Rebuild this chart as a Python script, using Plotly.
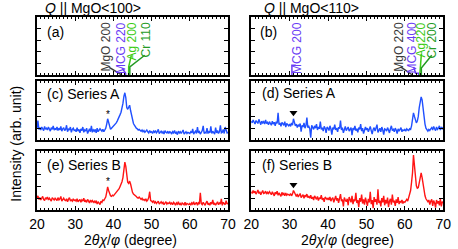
import numpy as np
import plotly.graph_objects as go

# ---------------- data ----------------
scan_start, scan_stop, scan_step = 20.0, 70.0, 0.25
two_theta = np.round(np.arange(scan_start, scan_stop + 1e-6, scan_step), 2)

series_A_100 = [
    20, 33, 18, 21, 17, 22, 19, 16, 23, 18, 20, 17, 22, 19, 15, 21, 18, 24, 17, 19,
    18, 22, 16, 20, 17, 23, 15, 19, 21, 16, 18, 25, 14, 19, 17, 22, 13, 18, 20, 16,
    17, 14, 21, 15, 18, 12, 19, 16, 22, 13, 17, 15, 20, 11, 16, 19, 14, 24, 13, 17,
    15, 18, 12, 20, 14, 16, 19, 17, 15, 18, 14, 17, 20, 27, 36, 30, 21, 18, 20, 22,
    22, 24, 26, 29, 32, 35, 38, 43, 47, 53, 62, 74, 80, 72, 55, 52, 56, 59, 50, 40,
    33, 28, 25, 22, 20, 19, 17, 18, 16, 15, 17, 14, 16, 13, 15, 17, 14, 12, 16, 13,
    14, 11, 15, 13, 16, 12, 14, 18, 11, 13, 15, 12, 14, 10, 16, 13, 12, 15, 11, 14,
    13, 10, 14, 12, 16, 11, 13, 9, 15, 12, 14, 11, 13, 17, 10, 12, 14, 11, 13, 12,
    11, 14, 12, 19, 10, 13, 15, 11, 22, 12, 14, 10, 13, 16, 24, 11, 13, 12, 20, 11,
    14, 12, 23, 11, 15, 13, 10, 21, 12, 16, 11, 14, 25, 12, 13, 18, 11, 22, 14, 12,
    13]

series_B_100 = [
    19, 24, 18, 21, 17, 20, 23, 18, 16, 21, 19, 22, 17, 20, 18, 15, 21, 19, 17, 20,
    18, 16, 21, 17, 19, 23, 15, 18, 20, 17, 16, 19, 14, 18, 21, 16, 17, 15, 19, 16,
    17, 15, 19, 14, 16, 18, 13, 17, 15, 20, 14, 16, 13, 18, 15, 12, 17, 14, 16, 13,
    15, 12, 16, 10, 14, 12, 9, 15, 13, 17, 16, 19, 22, 30, 39, 33, 26, 24, 23, 25,
    24, 26, 28, 30, 32, 34, 36, 40, 43, 48, 55, 68, 81, 74, 58, 47, 45, 49, 44, 36,
    30, 27, 25, 24, 23, 21, 20, 22, 19, 18, 20, 17, 18, 16, 19, 15, 17, 21, 31, 16,
    15, 13, 16, 12, 14, 11, 13, 15, 10, 12, 14, 11, 13, 9, 12, 14, 10, 12, 11, 13,
    10, 12, 9, 13, 11, 8, 12, 10, 14, 9, 11, 8, 12, 10, 9, 13, 8, 11, 10, 9,
    11, 8, 12, 10, 14, 9, 11, 13, 8, 12, 10, 29, 11, 9, 13, 10, 8, 12, 15, 9,
    11, 8, 13, 10, 17, 9, 12, 8, 11, 14, 9, 12, 10, 19, 8, 13, 11, 9, 16, 10,
    12]

series_A_110 = [
    32, 29, 34, 30, 27, 33, 31, 28, 35, 30, 26, 32, 29, 31, 27, 34, 28, 30, 26, 31,
    29, 25, 32, 27, 30, 24, 31, 28, 46, 26, 29, 23, 30, 27, 25, 31, 22, 28, 26, 24,
    27, 23, 29, 25, 36, 30, 24, 27, 21, 26, 23, 28, 14, 25, 22, 29, 20, 24, 38, 21,
    23, 19, 4, 25, 21, 18, 24, 20, 27, 17, 22, 19, 31, 18, 21, 15, 23, 20, 12, 22,
    20, 16, 24, 19, 9, 21, 18, 26, 17, 20, 14, 22, 19, 33, 17, 21, 12, 19, 23, 16,
    19, 22, 15, 18, 21, 8, 20, 17, 24, 16, 19, 13, 21, 18, 27, 15, 20, 11, 18, 22,
    17, 20, 14, 19, 23, 16, 10, 18, 21, 15, 19, 26, 13, 18, 20, 14, 22, 17, 9, 19,
    18, 15, 21, 17, 12, 19, 24, 16, 18, 14, 20, 17, 11, 19, 15, 18, 21, 14, 17, 16,
    18, 15, 19, 17, 16, 19, 18, 24, 36, 46, 40, 31, 29, 32, 40, 55, 66, 73, 68, 52,
    38, 27, 20, 17, 15, 18, 16, 19, 21, 17, 23, 19, 16, 22, 18, 20, 24, 17, 21, 19,
    22]

series_B_110 = [
    31, 28, 33, 29, 32, 27, 30, 34, 28, 31, 26, 30, 33, 28, 29, 32, 27, 30, 28, 31,
    29, 26, 31, 28, 24, 30, 27, 32, 25, 29, 27, 23, 30, 26, 28, 24, 29, 25, 27, 26,
    25, 28, 24, 27, 33, 30, 26, 23, 27, 22, 25, 28, 21, 24, 26, 20, 25, 23, 27, 21,
    23, 20, 25, 19, 22, 17, 24, 21, 18, 23, 16, 21, 19, 25, 17, 20, 14, 22, 19, 18,
    20, 17, 22, 15, 19, 21, 13, 18, 24, 16, 20, 12, 19, 27, 15, 18, 6, 21, 17, 14,
    19, 8, 22, 16, 13, 24, 10, 18, 15, 29, 12, 17, 5, 20, 14, 26, 11, 18, 9, 21,
    15, 7, 19, 13, 31, 10, 17, 3, 22, 14, 18, 9, 35, 12, 16, 6, 20, 13, 24, 8,
    17, 11, 21, 5, 15, 19, 9, 26, 13, 16, 7, 18, 12, 22, 10, 15, 13, 17, 11, 14,
    13, 16, 18, 15, 20, 24, 33, 47, 63, 93, 78, 55, 41, 37, 38, 46, 57, 63, 55, 42,
    31, 24, 19, 16, 14, 17, 9, 15, 18, 7, 16, 12, 4, 17, 11, 15, 8, 19, 6, 14,
    12]

# reference peak labels: (text, label_x, colour, leader polyline xs, ys)
ref_labels_100 = [
    ("MgO 200", 38.2, "#3a3a3a", [38.9, 42.2], [0.13, 0.0]),
    ("MCG 220", 42.0, "#6a3cf5", [42.3, 43.2, 43.2], [0.12, 0.03, 0.0]),
    ("Ag 200", 45.0, "#3ccc14", [44.7, 44.0, 44.0], [0.34, 0.14, 0.0]),
    ("Cr 110", 48.5, "#249a24", [48.2, 44.3, 44.3], [0.34, 0.14, 0.0]),
]
ref_labels_110 = [
    ("MCG 200", 31.9, "#6a3cf5", [31.6, 30.6, 30.6], [0.17, 0.17, 0.0]),
    ("MgO 220", 58.4, "#3a3a3a", [58.9, 62.0], [0.14, 0.0]),
    ("MCG 400", 62.0, "#6a3cf5", [62.3, 62.8, 63.6, 63.6], [0.14, 0.03, 0.03, 0.0]),
    ("Ag220", 64.2, "#3ccc14", [64.3, 63.9], [0.36, 0.0]),
    ("Cr 200", 67.2, "#249a24", [67.0, 64.3, 64.3], [0.34, 0.12, 0.0]),
]

star_pos = 38.5
triangle_pos = 31.0

FONT = "Liberation Sans, Arial, sans-serif"
BLUE = "#2050ff"
RED = "#ff1414"

W, H = 458, 249
xdom_L = [30 / W, 228 / W]
xdom_R = [252 / W, 451 / W]
ydom_top = [1 - 75 / H, 1 - 17 / H]
ydom_mid = [1 - 140 / H, 1 - 81 / H]
ydom_bot = [1 - 210 / H, 1 - 151 / H]

fig = go.Figure()

# panel index: 1=a, 2=b, 3=c, 4=d, 5=e, 6=f
def ax(n):
    return ("x" if n == 1 else f"x{n}"), ("y" if n == 1 else f"y{n}")

panels = [
    (1, xdom_L, ydom_top), (2, xdom_R, ydom_top),
    (3, xdom_L, ydom_mid), (4, xdom_R, ydom_mid),
    (5, xdom_L, ydom_bot), (6, xdom_R, ydom_bot),
]

for n, xd, yd in panels:
    xa, ya = ax(n)
    xkey = "xaxis" if n == 1 else f"xaxis{n}"
    ykey = "yaxis" if n == 1 else f"yaxis{n}"
    fig.update_layout(**{
        xkey: dict(domain=xd, anchor=ya, range=[20, 70], dtick=10,
                   ticks="inside", ticklen=4, tickwidth=1, tickcolor="black",
                   minor=dict(ticks="inside", dtick=1, ticklen=2, tickwidth=1, tickcolor="black"),
                   showline=True, linewidth=2, linecolor="black", mirror="allticks",
                   showgrid=False, zeroline=False,
                   showticklabels=(n >= 5),
                   tickfont=dict(size=14, family=FONT, color="black")),
        ykey: dict(domain=yd, anchor=xa,
                   range=[0, 1] if n <= 2 else [0, 100],
                   dtick=0.2 if n <= 2 else 20,
                   ticks="inside", ticklen=4, tickwidth=1, tickcolor="black",
                   showline=True, linewidth=2, linecolor="black", mirror="allticks",
                   showgrid=False, zeroline=False, showticklabels=False),
    })

# data traces
for n, vals, col in [(3, series_A_100, BLUE), (5, series_B_100, RED),
                     (4, series_A_110, BLUE), (6, series_B_110, RED)]:
    xa, ya = ax(n)
    fig.add_trace(go.Scatter(x=two_theta, y=vals, mode="lines",
                             line=dict(color=col, width=1.4),
                             xaxis=xa, yaxis=ya, showlegend=False, hoverinfo="skip"))

annotations = []

# reference labels and leader lines
for n, labels in [(1, ref_labels_100), (2, ref_labels_110)]:
    xa, ya = ax(n)
    for text, lx, col, lxs, lys in labels:
        fig.add_trace(go.Scatter(x=lxs, y=lys, mode="lines",
                                 line=dict(color=col, width=1.5),
                                 xaxis=xa, yaxis=ya, showlegend=False, hoverinfo="skip"))
        annotations.append(dict(text=text, x=lx, y=0.93, xref=xa, yref=ya,
                                xanchor="center", yanchor="top", textangle=-90,
                                showarrow=False, borderpad=0,
                                font=dict(size=12, family=FONT, color=col)))

# markers: * and triangle
for n, yv in [(3, 44), (5, 48)]:
    xa, ya = ax(n)
    annotations.append(dict(text="*", x=star_pos, y=yv, xref=xa, yref=ya,
                            showarrow=False, font=dict(size=10, family=FONT, color="black")))
for n, yv in [(4, 46), (6, 43)]:
    xa, ya = ax(n)
    fig.add_trace(go.Scatter(x=[triangle_pos], y=[yv], mode="markers",
                             marker=dict(symbol="triangle-down", size=7, color="black"),
                             xaxis=xa, yaxis=ya, showlegend=False, hoverinfo="skip"))

# panel labels
panel_text = [("(a)", 38, 32), ("(b)", 259, 32), ("(c) Series A", 38, 94),
              ("(d) Series A", 261, 93), ("(e) Series B", 38, 165), ("(f) Series B", 261, 165)]
for t, px, py in panel_text:
    annotations.append(dict(text=t, x=px / W, y=1 - py / H, xref="paper", yref="paper",
                            xanchor="left", yanchor="middle", showarrow=False,
                            font=dict(size=14, family=FONT, color="black")))

# titles
annotations.append(dict(text="<i>Q</i> || MgO&lt;100&gt;", x=36 / W, y=1 - 8 / H,
                        xref="paper", yref="paper", xanchor="left", yanchor="middle",
                        showarrow=False, font=dict(size=14, family=FONT, color="black")))
annotations.append(dict(text="<i>Q</i> || MgO&lt;110&gt;", x=263 / W, y=1 - 8 / H,
                        xref="paper", yref="paper", xanchor="left", yanchor="middle",
                        showarrow=False, font=dict(size=14, family=FONT, color="black")))
for cx in [127, 352]:
    annotations.append(dict(text="2<i>θχ</i>/<i>φ</i> (degree)", x=cx / W, y=1 - 240 / H,
                            xref="paper", yref="paper", xanchor="center", yanchor="middle",
                            showarrow=False, font=dict(size=14, family=FONT, color="black")))
annotations.append(dict(text="Intensity (arb. unit)", x=8 / W, y=1 - 144 / H,
                        xref="paper", yref="paper", xanchor="center", yanchor="middle",
                        textangle=-90, showarrow=False,
                        font=dict(size=14, family=FONT, color="black")))

fig.update_layout(width=W, height=H, margin=dict(l=0, r=0, t=0, b=0),
                  paper_bgcolor="white", plot_bgcolor="white",
                  annotations=annotations, showlegend=False,
                  font=dict(family=FONT))

fig.write_html("out.html", config={"displayModeBar": False},
               post_script="document.body.style.margin='0';document.body.style.padding='0';"
                           "document.documentElement.style.overflow='hidden';")
